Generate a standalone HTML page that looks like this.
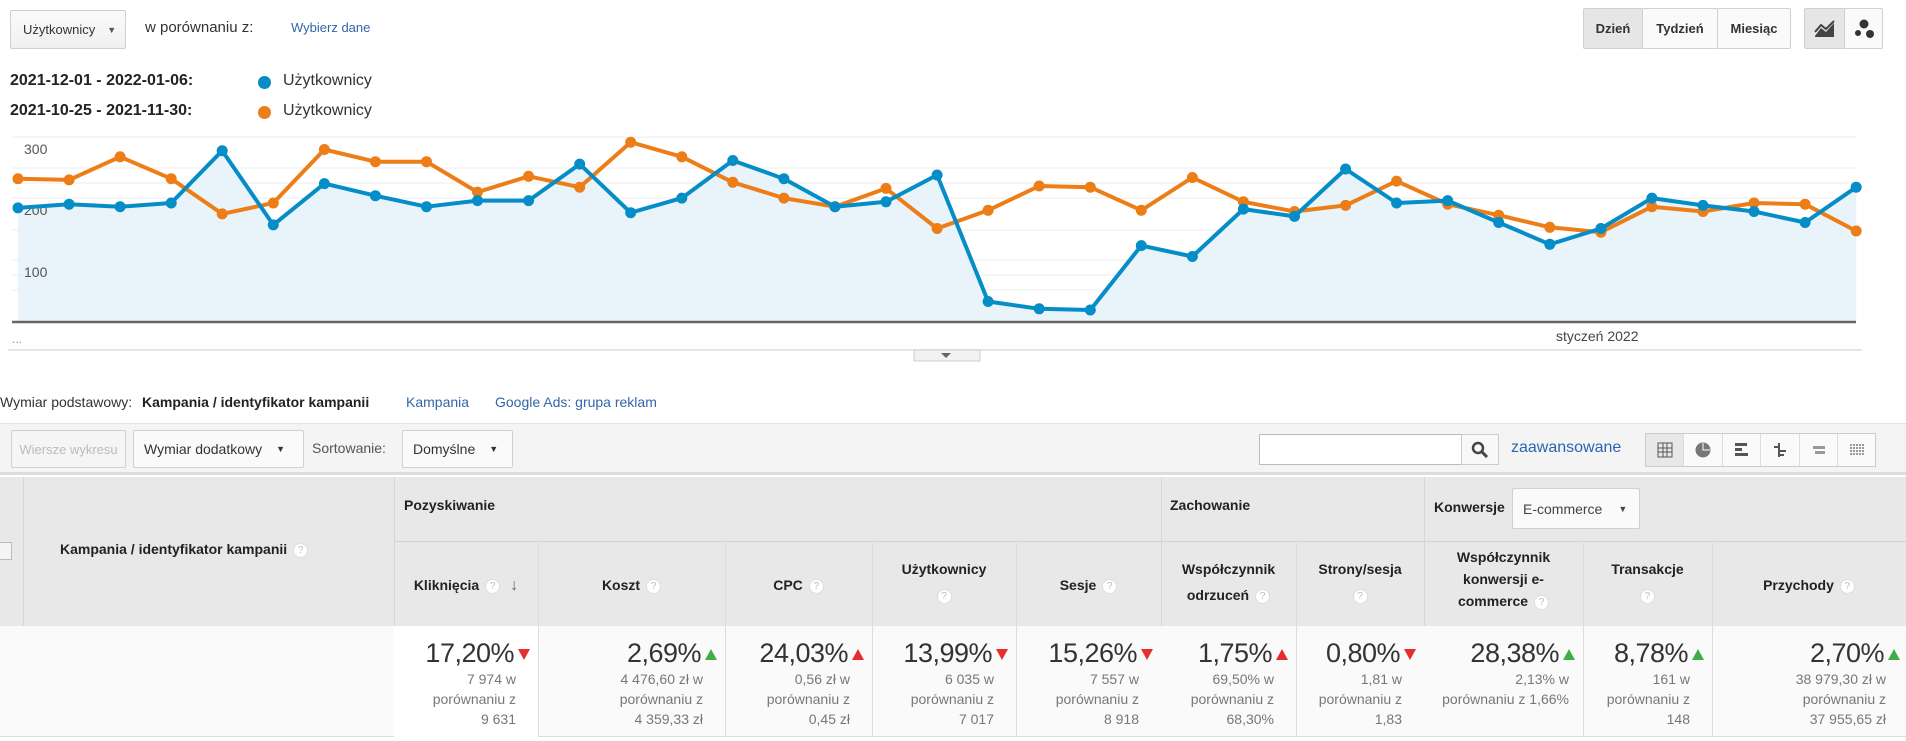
<!DOCTYPE html>
<html><head><meta charset="utf-8"><style>
*{box-sizing:border-box;margin:0;padding:0}
body{width:1906px;height:741px;overflow:hidden;background:#fff;font-family:"Liberation Sans",sans-serif;color:#222;position:relative}
.a{position:absolute;white-space:nowrap}
.btn{position:absolute;border:1px solid #d0d0d0;border-radius:2px;background:linear-gradient(#fafafa,#f0f0f0);font-size:14px;color:#333;display:flex;align-items:center}
.hd{position:absolute;font-size:14px;font-weight:bold;color:#222;text-align:center;line-height:26px}
.q{display:inline-block;width:15px;height:15px;border:1px solid #ddd;border-radius:50%;background:#fff;color:#bbb;font-size:10px;line-height:13px;text-align:center;font-weight:normal;vertical-align:middle;margin-left:6px}
.cell{position:absolute;top:626px;height:111px;text-align:right;padding-right:10px;border-right:1px solid #e0e0e0}
.big{font-size:27px;color:#333;margin-top:12px;letter-spacing:-0.5px}
.sm{font-size:14px;color:#777;line-height:20px;padding-right:14px}
.dn,.up{display:inline-block;width:0;height:0;margin-left:4px;vertical-align:middle}
.vline{position:absolute;width:1px;background:#d6d6d6}
</style></head><body>

<div class="btn" style="left:10px;top:10px;width:116px;height:39px;padding-left:12px;font-size:13px">Użytkownicy <span style="font-size:9px;margin-left:12px;color:#555">▼</span></div>
<div class="a" style="left:145px;top:19px;font-size:15px;color:#333">w porównaniu z:</div>
<div class="a" style="left:291px;top:20px;font-size:13px;color:#3366aa">Wybierz dane</div>

<div class="btn" style="left:1583px;top:8px;width:60px;height:41px;justify-content:center;font-weight:bold;background:#e6e6e6;font-size:13px">Dzień</div>
<div class="btn" style="left:1642px;top:8px;width:76px;height:41px;justify-content:center;font-weight:bold;background:#fafafa;font-size:13px">Tydzień</div>
<div class="btn" style="left:1717px;top:8px;width:74px;height:41px;justify-content:center;font-weight:bold;background:#fafafa;font-size:13px">Miesiąc</div>
<div class="btn" style="left:1804px;top:8px;width:41px;height:41px;justify-content:center;background:#e6e6e6"><svg width="22" height="18"><path d="M1 16 L7 8 L12 12 L20 3 L20 17 L1 17Z" fill="#444"/><path d="M1 12 L7 5 L12 9 L20 1" stroke="#444" stroke-width="2" fill="none"/></svg></div>
<div class="btn" style="left:1844px;top:8px;width:39px;height:41px;justify-content:center;background:#fafafa"><svg width="22" height="20"><circle cx="11" cy="5" r="4.5" fill="#333"/><circle cx="5" cy="14" r="3" fill="#333"/><circle cx="17" cy="15" r="4" fill="#333"/></svg></div>

<div class="a" style="left:10px;top:72px;font-size:16px;font-weight:bold">2021-12-01 - 2022-01-06:</div>
<div class="a" style="left:258px;top:76px;width:13px;height:13px;border-radius:50%;background:#058dc7"></div>
<div class="a" style="left:283px;top:72px;font-size:16px;color:#333">Użytkownicy</div>
<div class="a" style="left:10px;top:102px;font-size:16px;font-weight:bold">2021-10-25 - 2021-11-30:</div>
<div class="a" style="left:258px;top:106px;width:13px;height:13px;border-radius:50%;background:#ed7e17"></div>
<div class="a" style="left:283px;top:102px;font-size:16px;color:#333">Użytkownicy</div>

<svg class="a" style="left:0;top:0" width="1906" height="370">
<g stroke="#ececec" stroke-width="1">
<line x1="12" y1="137" x2="1856" y2="137"/><line x1="12" y1="168" x2="1856" y2="168"/><line x1="12" y1="183" x2="1856" y2="183"/>
<line x1="12" y1="198" x2="1856" y2="198"/><line x1="12" y1="230" x2="1856" y2="230"/><line x1="12" y1="260" x2="1856" y2="260"/>
<line x1="12" y1="275" x2="1856" y2="275"/><line x1="12" y1="290" x2="1856" y2="290"/>
</g>
<path fill="#e5f2f9" fill-opacity="0.9" d="M18 322 L18 207.9 L69.1 204.2 L120.1 206.7 L171.2 203 L222.2 150.7 L273.3 224.9 L324.4 183.6 L375.4 195.7 L426.5 206.7 L477.5 200.6 L528.6 200.6 L579.7 164.1 L630.7 212.7 L681.8 198.1 L732.8 160.5 L783.9 178.7 L835 206.7 L886 201.8 L937.1 175 L988.1 301.5 L1039.2 308.8 L1090.3 310 L1141.3 245.6 L1192.4 256.5 L1243.4 209.1 L1294.5 216.4 L1345.6 169 L1396.6 203 L1447.7 200.6 L1498.7 222.5 L1549.8 244.3 L1600.9 228.5 L1651.9 198.1 L1703 205.4 L1754 211.5 L1805.1 222.5 L1856.2 187.2 L1856.2 322Z"/>
<g font-size="14" fill="#555" font-family="Liberation Sans"><text x="24" y="154">300</text><text x="24" y="215">200</text><text x="24" y="277">100</text></g>
<line x1="12" y1="322" x2="1856" y2="322" stroke="#666" stroke-width="2.5"/>
<path fill="none" stroke="#ed7e17" stroke-width="4" stroke-linejoin="round" d="M18 178.7 L69.1 179.9 L120.1 156.8 L171.2 178.7 L222.2 213.9 L273.3 203 L324.4 149.5 L375.4 161.7 L426.5 161.7 L477.5 192.1 L528.6 176.3 L579.7 187.2 L630.7 142.2 L681.8 156.8 L732.8 182.3 L783.9 198.1 L835 206.7 L886 188.4 L937.1 228.5 L988.1 210.3 L1039.2 186 L1090.3 187.2 L1141.3 210.3 L1192.4 177.5 L1243.4 201.8 L1294.5 211.5 L1345.6 205.4 L1396.6 181.1 L1447.7 204.2 L1498.7 215.2 L1549.8 227.3 L1600.9 232.2 L1651.9 206.7 L1703 211.5 L1754 203 L1805.1 204.2 L1856.2 231"/>
<path fill="none" stroke="#ed7e17" stroke-width="11" stroke-linecap="round" d="M18 178.7h0M69.1 179.9h0M120.1 156.8h0M171.2 178.7h0M222.2 213.9h0M273.3 203h0M324.4 149.5h0M375.4 161.7h0M426.5 161.7h0M477.5 192.1h0M528.6 176.3h0M579.7 187.2h0M630.7 142.2h0M681.8 156.8h0M732.8 182.3h0M783.9 198.1h0M835 206.7h0M886 188.4h0M937.1 228.5h0M988.1 210.3h0M1039.2 186h0M1090.3 187.2h0M1141.3 210.3h0M1192.4 177.5h0M1243.4 201.8h0M1294.5 211.5h0M1345.6 205.4h0M1396.6 181.1h0M1447.7 204.2h0M1498.7 215.2h0M1549.8 227.3h0M1600.9 232.2h0M1651.9 206.7h0M1703 211.5h0M1754 203h0M1805.1 204.2h0M1856.2 231h0"/>
<path fill="none" stroke="#058dc7" stroke-width="4" stroke-linejoin="round" d="M18 207.9 L69.1 204.2 L120.1 206.7 L171.2 203 L222.2 150.7 L273.3 224.9 L324.4 183.6 L375.4 195.7 L426.5 206.7 L477.5 200.6 L528.6 200.6 L579.7 164.1 L630.7 212.7 L681.8 198.1 L732.8 160.5 L783.9 178.7 L835 206.7 L886 201.8 L937.1 175 L988.1 301.5 L1039.2 308.8 L1090.3 310 L1141.3 245.6 L1192.4 256.5 L1243.4 209.1 L1294.5 216.4 L1345.6 169 L1396.6 203 L1447.7 200.6 L1498.7 222.5 L1549.8 244.3 L1600.9 228.5 L1651.9 198.1 L1703 205.4 L1754 211.5 L1805.1 222.5 L1856.2 187.2"/>
<path fill="none" stroke="#058dc7" stroke-width="11" stroke-linecap="round" d="M18 207.9h0M69.1 204.2h0M120.1 206.7h0M171.2 203h0M222.2 150.7h0M273.3 224.9h0M324.4 183.6h0M375.4 195.7h0M426.5 206.7h0M477.5 200.6h0M528.6 200.6h0M579.7 164.1h0M630.7 212.7h0M681.8 198.1h0M732.8 160.5h0M783.9 178.7h0M835 206.7h0M886 201.8h0M937.1 175h0M988.1 301.5h0M1039.2 308.8h0M1090.3 310h0M1141.3 245.6h0M1192.4 256.5h0M1243.4 209.1h0M1294.5 216.4h0M1345.6 169h0M1396.6 203h0M1447.7 200.6h0M1498.7 222.5h0M1549.8 244.3h0M1600.9 228.5h0M1651.9 198.1h0M1703 205.4h0M1754 211.5h0M1805.1 222.5h0M1856.2 187.2h0"/>
<text x="12" y="343" font-size="12" fill="#888">...</text>
<text x="1556" y="341" font-size="14" fill="#444">styczeń 2022</text>
<line x1="8" y1="350" x2="1862" y2="350" stroke="#ddd" stroke-width="1.5"/>
<rect x="914" y="350" width="66" height="11" fill="#f2f2f2" stroke="#ccc"/>
<path d="M941 353 L951 353 L946 358Z" fill="#666"/>
</svg>

<div class="a" style="left:0;top:394px;font-size:14px;color:#333">Wymiar podstawowy: <b style="color:#222;margin-left:6px">Kampania / identyfikator kampanii</b></div>
<div class="a" style="left:406px;top:394px;font-size:14px;color:#3366aa">Kampania</div>
<div class="a" style="left:495px;top:394px;font-size:14px;color:#3366aa">Google Ads: grupa reklam</div>

<div class="a" style="left:0;top:423px;width:1906px;height:52px;background:#f4f4f4;border-top:1px solid #e2e2e2;border-bottom:3px solid #dcdcdc"></div>
<div class="btn" style="left:11px;top:430px;width:115px;height:38px;color:#bbb;justify-content:center;font-size:13px;background:#f5f5f5">Wiersze wykresu</div>
<div class="btn" style="left:133px;top:430px;width:171px;height:38px;padding-left:10px;font-size:14px;background:#fafafa">Wymiar dodatkowy <span style="font-size:9px;margin-left:14px">▼</span></div>
<div class="a" style="left:312px;top:440px;font-size:14px;color:#555">Sortowanie:</div>
<div class="btn" style="left:402px;top:430px;width:111px;height:38px;padding-left:10px;font-size:14px;background:#fafafa">Domyślne <span style="font-size:9px;margin-left:14px">▼</span></div>
<div class="a" style="left:1259px;top:434px;width:203px;height:31px;background:#fff;border:1px solid #bbb"></div>
<div class="a" style="left:1461px;top:434px;width:38px;height:31px;background:#f8f8f8;border:1px solid #ccc;text-align:center"><svg width="20" height="20" style="margin-top:5px"><circle cx="8" cy="8" r="5" stroke="#444" stroke-width="2.5" fill="none"/><line x1="12" y1="12" x2="17" y2="17" stroke="#444" stroke-width="3"/></svg></div>
<div class="a" style="left:1511px;top:439px;font-size:16px;color:#2a66b0">zaawansowane</div>
<div class="a" style="left:1645px;top:433px;width:231px;height:34px;border:1px solid #ccc;background:#fafafa;display:flex">
<div style="width:38px;border-right:1px solid #ddd;background:#e8e8e8;display:flex;align-items:center;justify-content:center"><svg width="16" height="16"><rect x="1" y="1" width="14" height="14" fill="none" stroke="#555"/><path d="M6 1V15M10 1V15M1 6H15M1 10H15" stroke="#555"/></svg></div>
<div style="width:39px;border-right:1px solid #ddd;display:flex;align-items:center;justify-content:center"><svg width="16" height="16"><circle cx="8" cy="8" r="7.5" fill="#777"/><path d="M8 1V8H15" stroke="#fff" fill="none"/></svg></div>
<div style="width:38px;border-right:1px solid #ddd;display:flex;align-items:center;justify-content:center"><svg width="16" height="16"><rect x="1" y="1" width="12" height="3" fill="#555"/><rect x="1" y="6" width="7" height="3" fill="#555"/><rect x="1" y="11" width="13" height="3" fill="#555"/></svg></div>
<div style="width:39px;border-right:1px solid #ddd;display:flex;align-items:center;justify-content:center"><svg width="16" height="16"><path d="M7 1V15M2 5H7M7 9H14M7 13H12" stroke="#555" stroke-width="2"/></svg></div>
<div style="width:38px;border-right:1px solid #ddd;display:flex;align-items:center;justify-content:center"><svg width="16" height="16"><rect x="2" y="4" width="12" height="3" fill="#999"/><rect x="4" y="9" width="10" height="3" fill="#999"/></svg></div>
<div style="width:37px;display:flex;align-items:center;justify-content:center"><svg width="16" height="16"><path d="M2 2V14M5 2V14M8 2V14M11 2V14M14 2V14" stroke="#777" stroke-width="1.5" stroke-dasharray="2 1"/></svg></div>
</div>

<div class="a" style="left:0;top:477px;width:1906px;height:149px;background:#e8e8e8"></div>
<div class="a" style="left:394px;top:541px;width:1512px;height:1px;background:#d2d2d2"></div>
<div class="vline" style="left:23px;top:477px;height:260px"></div>
<div class="vline" style="left:394px;top:477px;height:260px"></div>
<div class="vline" style="left:1161px;top:477px;height:260px"></div>
<div class="vline" style="left:1424px;top:477px;height:260px"></div>
<div class="a" style="left:0;top:542px;width:12px;height:18px;border:1px solid #bbb;border-left:none;background:#f4f4f4"></div>
<div class="hd" style="left:60px;top:536px">Kampania / identyfikator kampanii<span class="q">?</span></div>
<div class="hd" style="left:404px;top:492px">Pozyskiwanie</div>
<div class="hd" style="left:1170px;top:492px">Zachowanie</div>
<div class="hd" style="left:1434px;top:494px">Konwersje</div>
<div class="btn" style="left:1512px;top:488px;width:128px;height:41px;padding-left:10px;font-size:14px;background:#fafafa;color:#444">E-commerce <span style="font-size:9px;margin-left:16px">▼</span></div>

<div class="a" style="left:0;top:626px;width:1906px;height:111px;background:#fafafa;border-bottom:1px solid #ddd"></div>
<div class="a" style="left:394px;top:626px;width:144px;height:111px;background:#fff"></div>

<div class="hd" style="left:394px;top:572px;width:144px">Kliknięcia<span class="q">?</span><span style="margin-left:10px;color:#666;font-size:16px">↓</span></div>
<div class="hd" style="left:538px;top:572px;width:187px">Koszt<span class="q">?</span></div>
<div class="hd" style="left:725px;top:572px;width:147px">CPC<span class="q">?</span></div>
<div class="hd" style="left:872px;top:556px;width:144px">Użytkownicy<br><span class="q" style="margin:0">?</span></div>
<div class="hd" style="left:1016px;top:572px;width:145px">Sesje<span class="q">?</span></div>
<div class="hd" style="left:1161px;top:556px;width:135px">Współczynnik<br>odrzuceń<span class="q">?</span></div>
<div class="hd" style="left:1296px;top:556px;width:128px">Strony/sesja<br><span class="q" style="margin:0">?</span></div>
<div class="hd" style="left:1424px;top:546px;width:159px;line-height:22px">Współczynnik<br>konwersji e-<br>commerce<span class="q">?</span></div>
<div class="hd" style="left:1583px;top:556px;width:129px">Transakcje<br><span class="q" style="margin:0">?</span></div>
<div class="hd" style="left:1712px;top:572px;width:194px">Przychody<span class="q">?</span></div>

<div class="vline" style="left:538px;top:541px;height:196px;background:#ddd"></div>
<div class="vline" style="left:725px;top:541px;height:196px;background:#ddd"></div>
<div class="vline" style="left:872px;top:541px;height:196px;background:#ddd"></div>
<div class="vline" style="left:1016px;top:541px;height:196px;background:#ddd"></div>
<div class="vline" style="left:1296px;top:541px;height:196px;background:#ddd"></div>
<div class="vline" style="left:1583px;top:541px;height:196px;background:#ddd"></div>
<div class="vline" style="left:1712px;top:541px;height:196px;background:#ddd"></div>

<div class="a" style="left:394px;top:626px;width:144px;text-align:right;padding-right:8px"><div class="big">17,20%<span class="dn" style="border-left:6px solid transparent;border-right:6px solid transparent;border-top:11px solid #e62e2e"></span></div><div class="sm">7 974 w<br>porównaniu z<br>9 631</div></div>
<div class="a" style="left:538px;top:626px;width:187px;text-align:right;padding-right:8px"><div class="big">2,69%<span class="up" style="border-left:6px solid transparent;border-right:6px solid transparent;border-bottom:11px solid #3fae49"></span></div><div class="sm">4 476,60 zł w<br>porównaniu z<br>4 359,33 zł</div></div>
<div class="a" style="left:725px;top:626px;width:147px;text-align:right;padding-right:8px"><div class="big">24,03%<span class="up" style="border-left:6px solid transparent;border-right:6px solid transparent;border-bottom:11px solid #e62e2e"></span></div><div class="sm">0,56 zł w<br>porównaniu z<br>0,45 zł</div></div>
<div class="a" style="left:872px;top:626px;width:144px;text-align:right;padding-right:8px"><div class="big">13,99%<span class="dn" style="border-left:6px solid transparent;border-right:6px solid transparent;border-top:11px solid #e62e2e"></span></div><div class="sm">6 035 w<br>porównaniu z<br>7 017</div></div>
<div class="a" style="left:1016px;top:626px;width:145px;text-align:right;padding-right:8px"><div class="big">15,26%<span class="dn" style="border-left:6px solid transparent;border-right:6px solid transparent;border-top:11px solid #e62e2e"></span></div><div class="sm">7 557 w<br>porównaniu z<br>8 918</div></div>
<div class="a" style="left:1161px;top:626px;width:135px;text-align:right;padding-right:8px"><div class="big">1,75%<span class="up" style="border-left:6px solid transparent;border-right:6px solid transparent;border-bottom:11px solid #e62e2e"></span></div><div class="sm">69,50% w<br>porównaniu z<br>68,30%</div></div>
<div class="a" style="left:1296px;top:626px;width:128px;text-align:right;padding-right:8px"><div class="big">0,80%<span class="dn" style="border-left:6px solid transparent;border-right:6px solid transparent;border-top:11px solid #e62e2e"></span></div><div class="sm">1,81 w<br>porównaniu z<br>1,83</div></div>
<div class="a" style="left:1424px;top:626px;width:159px;text-align:right;padding-right:8px"><div class="big">28,38%<span class="up" style="border-left:6px solid transparent;border-right:6px solid transparent;border-bottom:11px solid #3fae49"></span></div><div class="sm" style="padding-right:6px">2,13% w<br>porównaniu z 1,66%</div></div>
<div class="a" style="left:1583px;top:626px;width:129px;text-align:right;padding-right:8px"><div class="big">8,78%<span class="up" style="border-left:6px solid transparent;border-right:6px solid transparent;border-bottom:11px solid #3fae49"></span></div><div class="sm">161 w<br>porównaniu z<br>148</div></div>
<div class="a" style="left:1712px;top:626px;width:194px;text-align:right;padding-right:6px"><div class="big">2,70%<span class="up" style="border-left:6px solid transparent;border-right:6px solid transparent;border-bottom:11px solid #3fae49"></span></div><div class="sm">38 979,30 zł w<br>porównaniu z<br>37 955,65 zł</div></div>

</body></html>
